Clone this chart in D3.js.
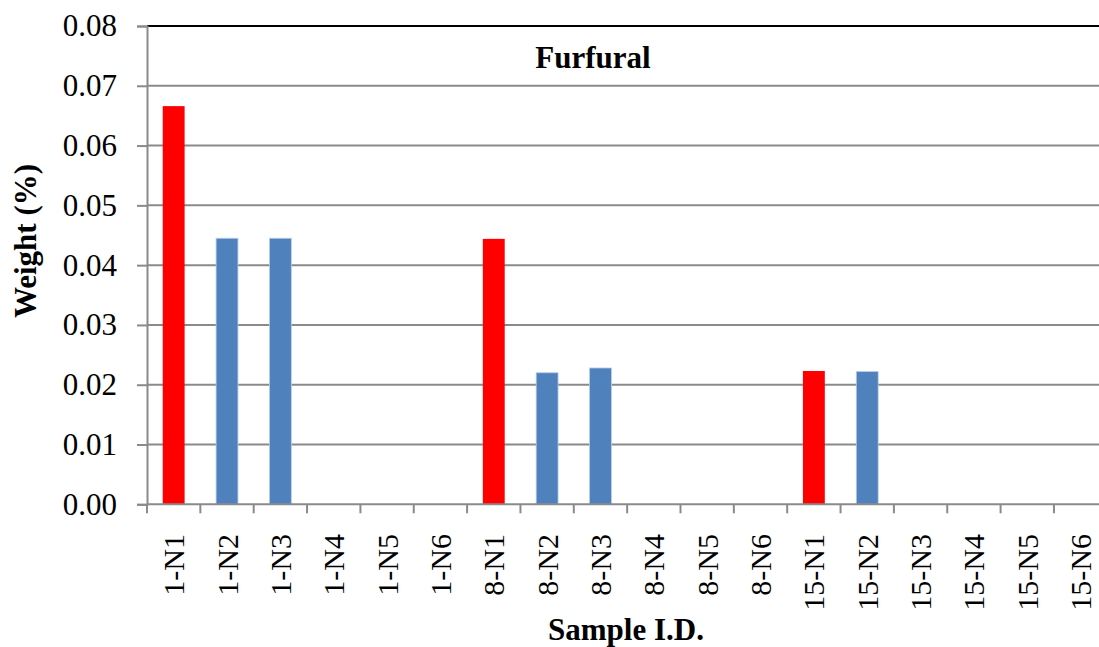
<!DOCTYPE html>
<html>
<head>
<meta charset="utf-8">
<script src="https://cdn.jsdelivr.net/npm/d3@7"></script>
<style>
  html, body { margin: 0; padding: 0; background: #fff; }
  svg { display: block; }
</style>
</head>
<body>
<svg id="chart" width="1099" height="647"></svg>
<script>
// Sample identifiers along the x axis
const samples = ["1-N1","1-N2","1-N3","1-N4","1-N5","1-N6",
                 "8-N1","8-N2","8-N3","8-N4","8-N5","8-N6",
                 "15-N1","15-N2","15-N3","15-N4","15-N5","15-N6"];
// Furfural weight (%) per sample
const weights = [0.0666, 0.0445, 0.0445, 0, 0, 0,
                 0.0444, 0.0220, 0.0228, 0, 0, 0,
                 0.0223, 0.0222, 0, 0, 0, 0];
// N1 samples are highlighted
const highlighted = ["1-N1", "8-N1", "15-N1"];
const yTicks = [0, 0.01, 0.02, 0.03, 0.04, 0.05, 0.06, 0.07, 0.08];

const FONT = "'Liberation Serif', 'Times New Roman', Times, serif";
const svg = d3.select("#chart");
const plotLeft = 147, plotTop = 26, plotW = 960.3, plotH = 478.3;

const x = d3.scaleBand().domain(samples).range([plotLeft, plotLeft + plotW])
  .paddingInner(0.59).paddingOuter(0.295);
const xEdge = d3.scaleLinear().domain([0, samples.length]).range([plotLeft, plotLeft + plotW]);
const y = d3.scaleLinear().domain([0, 0.08]).range([plotTop + plotH, plotTop]);

// horizontal gridlines
svg.append("g").selectAll("line").data(yTicks.slice(1)).join("line")
  .attr("x1", plotLeft).attr("x2", plotLeft + plotW)
  .attr("y1", d => y(d)).attr("y2", d => y(d))
  .attr("stroke", d => d === 0.08 ? "#000" : "#8a8a8a")
  .attr("stroke-width", 2);

// bars
svg.append("g").selectAll("rect").data(samples.map((s, i) => ({s, v: weights[i]})).filter(d => d.v > 0))
  .join("rect")
  .attr("x", d => x(d.s))
  .attr("width", x.bandwidth())
  .attr("y", d => y(d.v))
  .attr("height", d => y(0) - y(d.v))
  .attr("fill", d => highlighted.includes(d.s) ? "#ff0000" : "#4f81bd")
  .attr("stroke", d => highlighted.includes(d.s) ? "none" : "#b9cde5")
  .attr("stroke-width", 0.8);

// y axis
const yAxis = svg.append("g").attr("transform", `translate(${plotLeft},0)`)
  .call(d3.axisLeft(y).tickValues(yTicks).tickFormat(d3.format(".2f")).tickSize(10).tickPadding(20));
yAxis.select(".domain").attr("stroke", "#8a8a8a").attr("stroke-width", 2);
yAxis.selectAll(".tick line").attr("stroke", "#8a8a8a").attr("stroke-width", 2);
yAxis.selectAll(".tick text").style("font-family", FONT).style("font-size", "31px").attr("fill", "#000");

// x axis baseline and boundary ticks
const xAxisG = svg.append("g");
xAxisG.append("line").attr("x1", plotLeft).attr("x2", plotLeft + plotW)
  .attr("y1", y(0)).attr("y2", y(0)).attr("stroke", "#8a8a8a").attr("stroke-width", 2);
xAxisG.selectAll("line.edge").data(d3.range(samples.length + 1)).join("line").attr("class", "edge")
  .attr("x1", d => xEdge(d)).attr("x2", d => xEdge(d))
  .attr("y1", y(0)).attr("y2", y(0) + 9)
  .attr("stroke", "#8a8a8a").attr("stroke-width", 2);

// rotated sample labels
xAxisG.selectAll("text").data(samples).join("text")
  .attr("transform", d => `translate(${x(d) + x.bandwidth() / 2},534) rotate(-90)`)
  .attr("text-anchor", "end")
  .attr("dy", "0.35em")
  .style("font-family", FONT).style("font-size", "30px")
  .attr("fill", "#000")
  .text(d => d);

// titles
const titleStyle = sel => sel.style("font-family", FONT).style("font-size", "31px").style("font-weight", "bold");
svg.append("text").attr("x", 593).attr("y", 68).attr("text-anchor", "middle")
  .call(titleStyle).text("Furfural");
svg.append("text").attr("x", 626).attr("y", 640).attr("text-anchor", "middle")
  .call(titleStyle).text("Sample I.D.");
svg.append("text").attr("transform", "translate(36,241) rotate(-90)").attr("text-anchor", "middle")
  .call(titleStyle).text("Weight (%)");
</script>
</body>
</html>
